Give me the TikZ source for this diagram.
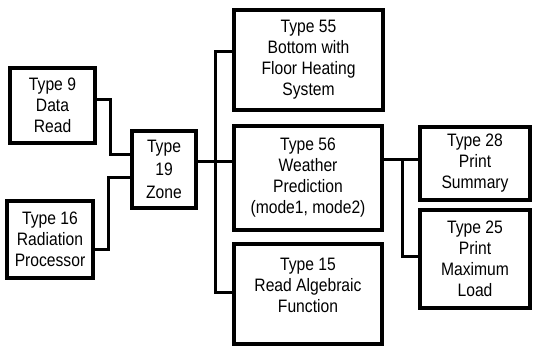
\documentclass[tikz,border=0pt]{standalone}
\usepackage{fontspec}
\setmainfont{Liberation Sans}[FakeStretch=0.87]
\usepackage{tikz}
\usetikzlibrary{positioning}

\begin{document}
\begin{tikzpicture}[x=0.5pt, y=-0.5pt,
        typebox/.style={rectangle, draw=black, line width=2.2pt, fill=white, align=center, inner sep=1pt, font=\fontsize{9}{10.5}\selectfont},
        wire/.style={draw=black, line width=1.5pt}
    ]
        \useasboundingbox (0,0) rectangle (534,351);

        % input side
        \node [typebox, minimum width=42.5pt, minimum height=37.5pt] (t_data) at (52.5,105.5) {Type 9\\Data\\Read};
        \node [typebox, minimum width=43pt, minimum height=38.5pt] (t_rad) at (50,239.5) {Type 16\\Radiation\\Processor};
        \node [typebox, minimum width=32pt, minimum height=38.5pt] (t_zone) at (164,169.5) {Type\\[1pt]19\\[1pt]Zone};

        % middle column
        \node [typebox, minimum width=74.5pt, minimum height=50pt] (t_floor) at (308.5,60) {Type 55\\Bottom with\\Floor Heating\\System};
        \node [typebox, minimum width=74pt, minimum height=52pt] (t_weather) at (308,178) {Type 56\\Weather\\Prediction\\(mode1, mode2)};
        \node [typebox, minimum width=74pt, minimum height=50pt] (t_alg) at (308,294) {Type 15\\Read Algebraic\\Function\\[-2pt]\mbox{}};

        % output side
        \node [typebox, minimum width=55pt, minimum height=36.5pt] (t_sum) at (475,163.5) {Type 28\\Print\\Summary};
        \node [typebox, minimum width=55pt, minimum height=49pt] (t_max) at (475,259) {Type 25\\Print\\Maximum\\Load};

        % bends
        \coordinate (k_data) at (110,100);
        \coordinate (k_data2) at (110,155);
        \coordinate (k_rad) at (108,250);
        \coordinate (k_rad2) at (108,178);
        \coordinate (b_floor) at (215,52);
        \coordinate (b_weather) at (215,162);
        \coordinate (b_alg) at (215,293);
        \coordinate (c_sum) at (402,160);
        \coordinate (c_max) at (402,257);

        \draw [wire] (t_data.east |- k_data) -- (k_data) -- (k_data2) -- (k_data2 -| t_zone.west);
        \draw [wire] (t_rad.east |- k_rad) -- (k_rad) -- (k_rad2) -- (k_rad2 -| t_zone.west);

        \draw [wire] (t_zone.east |- b_weather) -- (b_weather -| t_weather.west);
        \draw [wire] (b_floor -| t_floor.west) -- (b_floor) -- (b_alg) -- (b_alg -| t_alg.west);

        \draw [wire] (t_weather.east |- c_sum) -- (c_sum -| t_sum.west);
        \draw [wire] (c_sum) -- (c_max) -- (c_max -| t_max.west);
    \end{tikzpicture}
\end{document}
